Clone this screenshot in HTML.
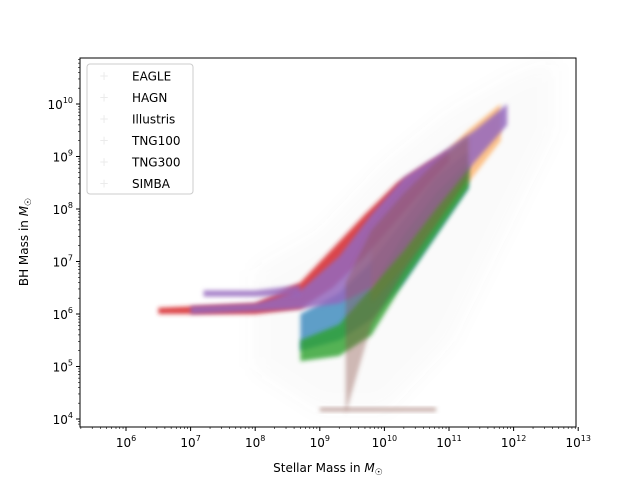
<!DOCTYPE html>
<html><head><meta charset="utf-8"><style>
body{margin:0;background:#fff;font-family:"Liberation Sans","DejaVu Sans",sans-serif}
svg text{font-family:"DejaVu Sans","Liberation Sans",sans-serif;font-size:12px;fill:#000}
</style></head><body>
<svg id="c" width="640" height="480">
<defs><filter id="blur" x="-20%" y="-50%" width="140%" height="200%"><feGaussianBlur stdDeviation="2"/></filter><filter id="blur2"><feGaussianBlur stdDeviation="10"/></filter></defs>
<rect width="640" height="480" fill="#fff"/>
<g id="marks"></g>
<rect x="80" y="58" width="496" height="369" fill="none" stroke="#000" stroke-width="1"/>
<g id="axes"></g>
<text x="328" y="472" text-anchor="middle">Stellar Mass in <tspan font-style="italic">M</tspan><tspan font-size="9" dy="3">☉</tspan></text>
<text transform="translate(28,242) rotate(-90)" text-anchor="middle">BH Mass in <tspan font-style="italic">M</tspan><tspan font-size="9" dy="3">☉</tspan></text>
<g>
<rect x="87" y="64" width="106" height="130" rx="3" fill="#fff" fill-opacity="0.8" stroke="#ccc"/>
<g id="leg"></g>
</g>
</svg>
<script>
const seriesNames=["EAGLE","HAGN","Illustris","TNG100","TNG300","SIMBA"];
const seriesColors=["#1f77b4","#ff7f0e","#2ca02c","#d62728","#9467bd","#8c564b"];
// bands: log stellar mass, log BH mass lower/upper
const hazeX=[8.0,9.0,10.0,11.0,12.0,12.6];
const hazeLo=[5.0,4.2,4.2,5.5,8.0,9.5];
const hazeHi=[6.8,7.5,8.8,9.8,10.5,10.8];
const eagleX=[8.7,9.3,9.8,10.3,10.8,11.3];
const eagleLo=[5.3,5.5,5.9,6.6,7.5,8.4];
const eagleHi=[6.0,6.4,7.0,7.8,8.6,9.1];
const hagnX=[9.8,10.3,10.8,11.3,11.8];
const hagnLo=[6.2,6.9,7.7,8.5,9.3];
const hagnHi=[7.5,8.2,8.9,9.5,10.0];
const illX=[8.7,9.3,9.8,10.3,10.8,11.3];
const illLo=[5.1,5.2,5.6,6.6,7.5,8.4];
const illHi=[5.5,5.8,6.5,7.5,8.3,8.9];
const tng100X=[6.5,8.0,8.7,9.2,9.7,10.2,10.7,11.0];
const tng100Lo=[6.0,6.0,6.1,6.5,7.1,7.8,8.5,8.9];
const tng100Hi=[6.12,6.2,6.6,7.25,7.9,8.5,8.9,9.1];
const tng300X=[7.0,8.0,8.7,9.3,9.8,10.3,10.8,11.4,11.9];
const tng300Lo=[6.0,6.05,6.1,6.2,6.5,7.2,8.0,8.9,9.6];
const tng300Hi=[6.15,6.2,6.45,7.1,7.9,8.6,9.0,9.5,10.0];
const tng300bX=[7.2,8.0,8.7];
const tng300bLo=[6.33,6.33,6.35];
const tng300bHi=[6.45,6.45,6.55];
const simbaX=[9.4,9.8,10.3,10.8,11.3];
const simbaLo=[4.1,5.8,6.8,7.7,8.6];
const simbaHi=[6.6,7.6,8.3,8.9,9.4];
const simbaFloorX=[9.0,10.8];
const simbaFloorY=[4.18,4.18];
const xTicks=[6,7,8,9,10,11,12,13];
const yTicks=[4,5,6,7,8,9,10];

const X=v=>126+(v-6)*64.6;
const Y=v=>314-(v-6)*52.5;
const NS="http://www.w3.org/2000/svg";
const marks=document.getElementById('marks');
function band(xs,lo,hi,color,op,name,filt){
  let pts=xs.map((x,i)=>X(x)+","+Y(hi[i]));
  for(let i=xs.length-1;i>=0;i--)pts.push(X(xs[i])+","+Y(lo[i]));
  const p=document.createElementNS(NS,'polygon');
  p.setAttribute('points',pts.join(' '));
  p.setAttribute('fill',color);p.setAttribute('fill-opacity',op);
  p.setAttribute('stroke-linejoin','round');
  p.setAttribute('filter','url(#'+(filt||'blur')+')');
  
  
  marks.appendChild(p);
}
band(hazeX,hazeLo,hazeHi,'#8c7a8a',0.04,'faint-scatter-cloud','blur2');
band(eagleX,eagleLo,eagleHi,seriesColors[0],0.7,'eagle-band');
band(hagnX,hagnLo,hagnHi,seriesColors[1],0.45,'hagn-band');
band(illX,illLo,illHi,seriesColors[2],0.8,'illustris-band');
band(tng100X,tng100Lo,tng100Hi,seriesColors[3],0.85,'tng100-band');
band(tng300X,tng300Lo,tng300Hi,seriesColors[4],0.85,'tng300-band');
band(tng300bX,tng300bLo,tng300bHi,seriesColors[4],0.8,'tng300-upper-band');
band(simbaX,simbaLo,simbaHi,seriesColors[5],0.4,'simba-band');
const fl=document.createElementNS(NS,'rect');
fl.setAttribute('x',X(simbaFloorX[0]));fl.setAttribute('width',X(simbaFloorX[1])-X(simbaFloorX[0]));
fl.setAttribute('y',Y(simbaFloorY[0])-2);fl.setAttribute('height',4);
fl.setAttribute('fill',seriesColors[5]);fl.setAttribute('fill-opacity','0.5');
fl.setAttribute('filter','url(#blur)');


marks.appendChild(fl);

const axes=document.getElementById('axes');
function add(tag,attrs,txt){const e=document.createElementNS(NS,tag);for(const k in attrs)e.setAttribute(k,attrs[k]);if(txt!==undefined)e.innerHTML=txt;axes.appendChild(e);return e;}
xTicks.forEach(t=>{
  const l=add('line',{x1:X(t),x2:X(t),y1:427,y2:431,stroke:'#000'});
  
  
  for(let m=2;m<10;m++){const v=t-1+Math.log10(m);if(X(v)>80&&X(v)<576)add('line',{x1:X(v),x2:X(v),y1:427,y2:429,stroke:'#000','stroke-width':0.6});}
  const tx=add('text',{x:X(t),y:447,'text-anchor':'middle'},'10<tspan font-size="8" dy="-6">'+t+'</tspan>');
  
  
});
yTicks.forEach(t=>{
  const l=add('line',{x1:76,x2:80,y1:Y(t),y2:Y(t),stroke:'#000'});
  
  
  for(let m=2;m<10;m++){const v=t+Math.log10(m);if(Y(v)>58&&Y(v)<427)add('line',{x1:78,x2:80,y1:Y(v),y2:Y(v),stroke:'#000','stroke-width':0.6});}
  for(let m=2;m<10;m++){const v=t-1+Math.log10(m);if(t==4&&Y(v)<427)add('line',{x1:78,x2:80,y1:Y(v),y2:Y(v),stroke:'#000','stroke-width':0.6});}
  const tx=add('text',{x:73,y:Y(t)+5,'text-anchor':'end'},'10<tspan font-size="8" dy="-6">'+t+'</tspan>');
  
  
});
const leg=document.getElementById('leg');
seriesNames.forEach((n,i)=>{
  const y=76+i*21.5;
  const g=document.createElementNS(NS,'g');
  
  
  g.innerHTML='<text x="104" y="'+(y+4)+'" text-anchor="middle" fill="'+seriesColors[i]+'" fill-opacity="0.08" font-size="11">+</text><text x="132" y="'+(y+4.5)+'">'+n+'</text>';
  leg.appendChild(g);
});
</script>
</body></html>
